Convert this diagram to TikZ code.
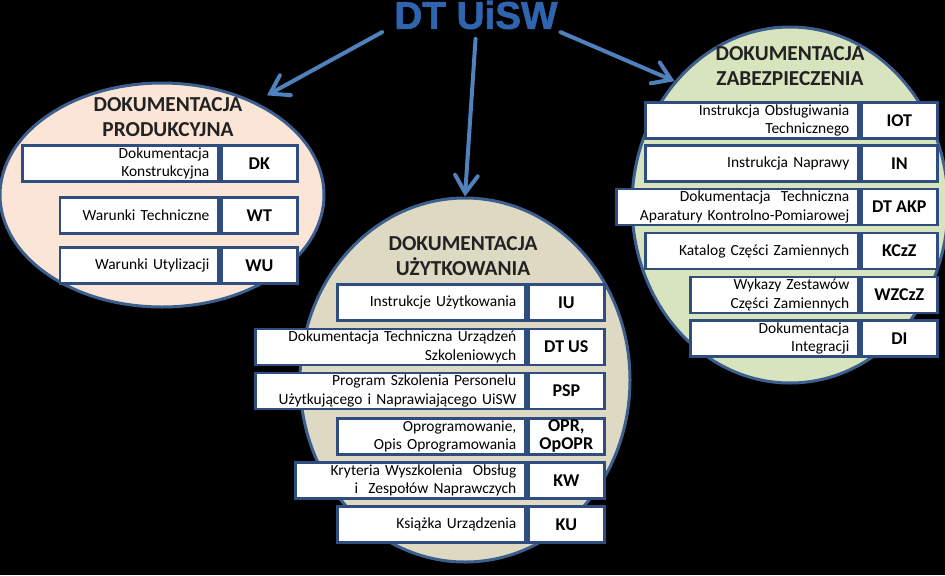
\documentclass[tikz,border=0pt]{standalone}
\usepackage{fontspec}
\setmainfont{Carlito}
\newfontfamily\tytulfont{Liberation Sans}[BoldFeatures={FakeBold=1.6}]
\usetikzlibrary{arrows.meta,positioning,shapes.geometric}
\definecolor{ramka}{HTML}{2F4D7E}
\definecolor{obwod}{HTML}{3C5F8E}
\definecolor{brzoskw}{HTML}{FBE5D6}
\definecolor{piasek}{HTML}{DDD9C3}
\definecolor{seledyn}{HTML}{D7E4BD}
\definecolor{strzal}{HTML}{4F81BD}
\definecolor{granat}{HTML}{2F64AE}
\definecolor{napis}{HTML}{222222}

\begin{document}
\begin{tikzpicture}[x=0.75pt,y=-0.75pt,
          elipsa/.style={ellipse,draw=obwod,line width=2.25pt,inner sep=0pt},
          naglowek/.style={napis,align=center,
                      font=\bfseries\fontsize{16}{18.75}\selectfont},
          opis/.style={draw=ramka,line width=2pt,fill=white,anchor=east,
                      minimum height=27pt,inner xsep=7pt,inner ysep=1pt,
                      align=right,text width=#1,font=\fontsize{11.6}{14}\selectfont},
          skrot/.style={draw=ramka,line width=2pt,fill=white,right=0pt of #1,
                      minimum height=27pt,minimum width=57pt,inner sep=1pt,
                      align=center,font=\bfseries\fontsize{13.5}{13.5}\selectfont},
          strz/.style={strzal,line width=3pt,line cap=round,
                      -{Straight Barb[length=13pt,width=17pt,line cap=round]}}]
        \useasboundingbox (0,0) rectangle (945,575);
        \fill[black] (0,0) rectangle (945,575);
        % trzy obszary dokumentacji
        \node[elipsa,fill=brzoskw,minimum width=243pt,minimum height=168pt] (elipsaP) at (162,195) {};
        \node[elipsa,fill=piasek,minimum width=247.5pt,minimum height=273pt] (elipsaU) at (465,380) {};
        \node[elipsa,fill=seledyn,minimum width=237pt,minimum height=267pt] (elipsaZ) at (790,205) {};
        \node[granat,font=\tytulfont\bfseries\fontsize{29}{30}\selectfont,inner sep=2pt] (tytul) at (476,15) {DT UiSW};
        \node[naglowek] (hdrP) at (168,117) {DOKUMENTACJA\\PRODUKCYJNA};
        \node[naglowek] (hdrU) at (463,256) {DOKUMENTACJA\\UŻYTKOWANIA};
        \node[naglowek] (hdrZ) at (790,66) {DOKUMENTACJA\\ZABEZPIECZENIA};
        % produkcyjna
        \node[opis=133pt] (dk) at (220,163.5) {Dokumentacja\\Konstrukcyjna};
        \node[skrot=dk] (dkS) {DK};
        \node[opis=105pt] (wt) at (220,215.5) {Warunki Techniczne};
        \node[skrot=wt] (wtS) {WT};
        \node[opis=105pt] (wu) at (220,265.5) {Warunki Utylizacji};
        \node[skrot=wu] (wuS) {WU};
        % użytkowania
        \node[opis=127pt] (iu) at (527,302.5) {Instrukcje Użytkowania};
        \node[skrot=iu] (iuS) {IU};
        \node[opis=188.5pt] (dtus) at (527,347) {Dokumentacja Techniczna Urządzeń\\Szkoleniowych};
        \node[skrot=dtus] (dtusS) {DT US};
        \node[opis=188.5pt] (psp) at (527,391) {Program Szkolenia Personelu\\Użytkującego i Naprawiającego UiSW};
        \node[skrot=psp] (pspS) {PSP};
        \node[opis=127pt] (opr) at (527,436.5) {Oprogramowanie,\\Opis Oprogramowania};
        \node[skrot=opr] (oprS) {OPR,\\OpOPR};
        \node[opis=158.5pt] (kw) at (527,480.5) {Kryteria Wyszkolenia~ Obsług\\i~ Zespołów Naprawczych};
        \node[skrot=kw] (kwS) {KW};
        \node[opis=127pt] (ku) at (527,524.5) {Książka Urządzenia};
        \node[skrot=ku] (kuS) {KU};
        % zabezpieczenia
        \node[opis=146pt] (iot) at (860,120.5) {Instrukcja Obsługiwania\\Technicznego};
        \node[skrot=iot] (iotS) {IOT};
        \node[opis=146pt] (inap) at (860,163.5) {Instrukcja Naprawy};
        \node[skrot=inap] (inapS) {IN};
        \node[opis=167.5pt] (dtakp) at (860,207) {Dokumentacja~ Techniczna\\Aparatury Kontrolno-Pomiarowej};
        \node[skrot=dtakp] (dtakpS) {DT AKP};
        \node[opis=146pt] (kczz) at (860,251) {Katalog Części Zamiennych};
        \node[skrot=kczz] (kczzS) {KCzZ};
        \node[opis=112pt] (wzczz) at (860,295) {Wykazy Zestawów\\Części Zamiennych};
        \node[skrot=wzczz] (wzczzS) {WZCzZ};
        \node[opis=112pt] (di) at (860,338.5) {Dokumentacja\\Integracji};
        \node[skrot=di] (diS) {DI};
        % strzałki od tytułu
        \draw[strz,shorten >=10pt] ([xshift=-7pt]tytul.south west) -- (elipsaP.45);
        \draw[strz,shorten <=5pt] (tytul.south) -- (elipsaU.north);
        \draw[strz] (tytul.south east) -- (elipsaZ.133);
      \end{tikzpicture}
\end{document}
